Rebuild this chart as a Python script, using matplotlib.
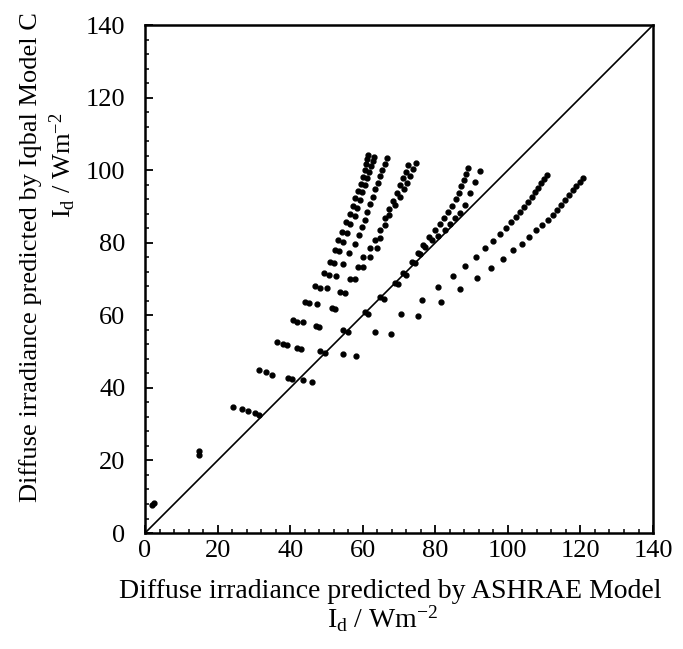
import matplotlib
matplotlib.use("Agg")
import matplotlib.pyplot as plt
from matplotlib.ticker import MultipleLocator

plt.rcParams['font.family'] = ['Liberation Serif', 'DejaVu Serif']
plt.rcParams['mathtext.fontset'] = 'custom'
plt.rcParams['mathtext.rm'] = 'Liberation Serif'
plt.rcParams['mathtext.it'] = 'Liberation Serif:italic'

# ---- data (ASHRAE model x, Iqbal model C y) ----
s1a_x = [1.9, 15.0, 24.2, 31.5, 36.5, 40.8, 44.0, 46.8, 49.3, 51.0, 52.4, 53.3, 54.4, 55.3, 56.6,
         57.3, 58.0, 58.7, 59.4, 60.0, 60.5, 61.0, 61.3, 61.5]
s1a_y = [7.7, 22.7, 34.7, 44.8, 52.6, 58.6, 63.6, 68.0, 71.6, 74.6, 77.9, 80.7, 83.1, 85.6, 87.8,
         90.0, 92.2, 94.3, 96.3, 98.2, 100.0, 101.6, 103.0, 104.2]

s1b_x = [2.6, 15.0, 26.7, 33.3, 38.0, 42.0, 45.3, 48.2, 50.6, 52.2, 53.6, 54.5, 55.6, 56.5, 57.8,
         58.5, 59.2, 59.9, 60.6, 61.2, 61.8, 62.3, 62.7, 63.0]
s1b_y = [8.2, 21.5, 34.2, 44.3, 52.2, 58.2, 63.3, 67.6, 71.2, 74.3, 77.6, 80.3, 82.7, 85.1, 87.3,
         89.6, 91.8, 93.9, 95.9, 97.8, 99.6, 101.2, 102.6, 103.6]

s2_x = [28.4, 35.0, 39.1, 43.5, 47.4, 50.2, 52.6, 54.6, 56.2, 57.9, 58.9, 59.8, 60.6, 61.3, 62.0,
        62.7, 63.4, 64.1, 64.8, 65.4, 66.1, 66.7]
s2_y = [33.6, 43.5, 51.8, 58.1, 63.1, 67.5, 70.8, 74.1, 77.2, 79.6, 82.1, 84.3, 86.4, 88.5, 90.6,
        92.7, 94.7, 96.6, 98.4, 100.1, 101.8, 103.3]

s3a_x = [30.3, 39.4, 41.9, 47.1, 51.5, 53.7, 56.5, 58.7, 60.1, 62.0, 63.4, 64.8, 66.1, 67.3, 68.4,
         69.4, 70.3, 71.1, 71.8, 72.5]
s3a_y = [33.1, 42.7, 51.0, 57.0, 62.0, 66.4, 70.0, 73.3, 76.1, 78.5, 80.7, 83.5, 86.8, 89.3, 91.6,
         93.8, 95.9, 97.8, 99.6, 101.4]

s3b_x = [31.4, 40.4, 42.9, 48.0, 52.4, 55.1, 57.9, 60.1, 62.0, 63.9, 64.8, 66.1, 67.2, 68.8, 70.2,
         71.3, 72.3, 73.1, 73.9, 74.7]
s3b_y = [32.5, 42.4, 50.7, 56.8, 61.8, 66.2, 70.0, 73.3, 76.1, 78.5, 81.3, 84.9, 87.6, 90.4, 92.6,
         94.7, 96.6, 98.5, 100.2, 101.9]

d1_x = [43.5, 48.2, 54.6, 60.6, 64.8, 68.9, 71.1, 73.6, 75.2, 76.6, 78.3, 79.8, 81.2, 82.5, 83.6,
        84.6, 85.6, 86.4, 87.1, 87.8, 88.4, 89.0]
d1_y = [42.2, 50.2, 55.9, 60.9, 65.0, 68.9, 71.6, 74.7, 77.2, 79.4, 81.6, 83.5, 85.2, 86.8, 88.4,
        90.2, 92.0, 93.8, 95.6, 97.4, 99.0, 100.6]

d2_x = [46.0, 49.5, 56.0, 61.5, 65.8, 69.8, 72.0, 74.3, 75.8, 77.2, 79.1, 80.7, 82.7, 84.0, 85.4,
        86.8, 88.2, 89.6, 90.9, 92.3]
d2_y = [41.6, 49.5, 55.5, 60.5, 64.6, 68.5, 71.2, 74.3, 76.8, 78.8, 80.7, 81.8, 83.5, 85.1, 86.8,
        88.2, 90.4, 93.7, 96.7, 99.8]

r1_x = [54.6, 63.4, 70.5, 76.3, 80.7, 84.9, 88.2, 91.2, 93.7, 95.9, 97.8, 99.5, 100.9, 102.2, 103.3,
        104.4, 105.5, 106.6, 107.5, 108.3, 109.1, 109.9, 110.8]
r1_y = [49.3, 55.4, 60.3, 64.2, 67.8, 70.8, 73.6, 76.1, 78.5, 80.5, 82.4, 84.0, 85.7, 87.1, 88.5,
        89.8, 91.2, 92.6, 94.0, 95.1, 96.4, 97.5, 98.6]

r2_x = [58.1, 67.8, 75.2, 81.6, 86.8, 91.5, 95.3, 98.6, 101.4, 103.9, 105.8, 107.7, 109.4, 111.0,
        112.4, 113.5, 114.6, 115.7, 116.8, 117.9, 118.8, 119.9, 120.7]
r2_y = [48.8, 54.8, 59.8, 63.7, 67.2, 70.3, 73.0, 75.5, 78.0, 79.6, 81.6, 83.5, 84.9, 86.2,
        87.6, 89.0, 90.4, 91.8, 93.1, 94.5, 95.6, 96.7, 97.8]

series = [(s1a_x, s1a_y), (s1b_x, s1b_y), (s2_x, s2_y), (s3a_x, s3a_y), (s3b_x, s3b_y),
          (d1_x, d1_y), (d2_x, d2_y), (r1_x, r1_y), (r2_x, r2_y)]

axis_min, axis_max = 0, 140
ticks = [0, 20, 40, 60, 80, 100, 120, 140]

fig = plt.figure(figsize=(6.83, 6.49), dpi=100)
ax = fig.add_axes([0.2123, 0.1787, 0.7438, 0.7827])

ax.plot([axis_min, axis_max], [axis_min, axis_max], color='black', lw=1.2, zorder=2)
for xs, ys in series:
    ax.plot(xs, ys, linestyle='none', marker='o', ms=3.5, color='black', mec='black', zorder=3)

ax.set_xlim(axis_min, axis_max)
ax.set_ylim(axis_min, axis_max)
ax.set_xticks(ticks)
ax.set_yticks(ticks)
ax.xaxis.set_minor_locator(MultipleLocator(4))
ax.yaxis.set_minor_locator(MultipleLocator(4))
ax.tick_params(which='both', direction='in', top=False, right=False, colors='black')
ax.tick_params(which='major', length=6, width=1.3, labelsize=19)
ax.tick_params(axis='x', which='major', pad=5)
ax.tick_params(axis='y', which='major', pad=14)
ax.tick_params(which='minor', length=3, width=1.1)
for sp in ax.spines.values():
    sp.set_linewidth(1.8)
    sp.set_color('black')

fig.text(0.572, 0.088, 'Diffuse irradiance predicted by ASHRAE Model', ha='center', va='center', fontsize=20)
fig.text(0.560, 0.046, r'I$_\mathrm{d}$ / Wm$^\mathrm{-2}$', ha='center', va='center', fontsize=20)
fig.text(0.044, 0.604, 'Diffuse irradiance predicted by Iqbal Model C', ha='center', va='center',
         rotation=90, fontsize=19)
fig.text(0.092, 0.745, r'I$_\mathrm{d}$ / Wm$^\mathrm{-2}$', ha='center', va='center',
         rotation=90, fontsize=19)

fig.savefig('out.png', dpi=100)
